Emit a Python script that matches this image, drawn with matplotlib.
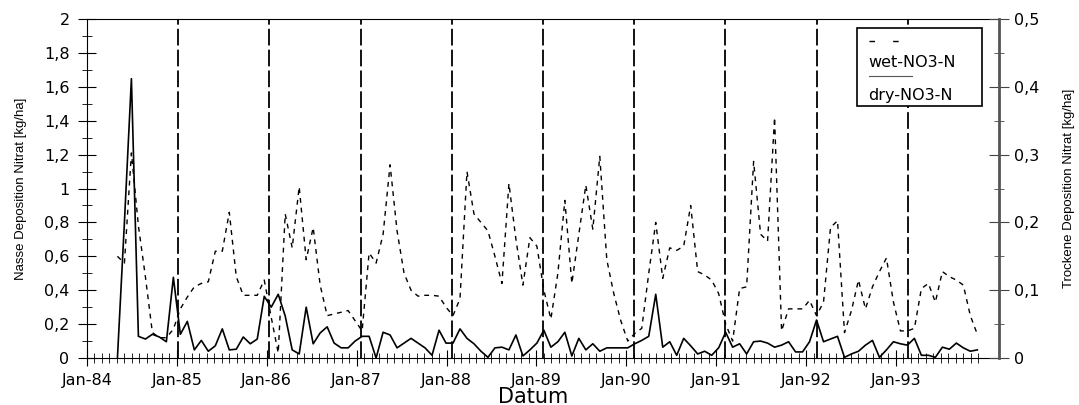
import pandas as pd
import matplotlib
matplotlib.use("Agg")
import matplotlib.pyplot as plt
import matplotlib.dates as mdates
from matplotlib.patches import Rectangle
from matplotlib.lines import Line2D
from matplotlib.ticker import FixedLocator, FixedFormatter, FuncFormatter, MultipleLocator

# 4-weekly sampling periods, first period ending early May 1984
period_start = "1984-05-02"
n_periods = 124

# wet deposition NO3-N [kg/ha] (left axis)
wet_no3 = [
    0.60, 0.56, 1.21, 0.78, 0.48, 0.15, 0.12, 0.12, 0.17, 0.29,
    0.36, 0.42, 0.44, 0.45, 0.63, 0.63, 0.86, 0.48, 0.37, 0.37,
    0.37, 0.46, 0.24, 0.03, 0.85, 0.65, 1.01, 0.58, 0.77, 0.43,
    0.25, 0.26, 0.27, 0.28, 0.22, 0.16, 0.62, 0.56, 0.73, 1.14,
    0.75, 0.50, 0.40, 0.365, 0.37, 0.37, 0.365, 0.30, 0.25, 0.35,
    1.10, 0.85, 0.80, 0.75, 0.60, 0.44, 1.03, 0.70, 0.43, 0.71,
    0.66, 0.40, 0.23, 0.50, 0.93, 0.44, 0.73, 1.02, 0.76, 1.19,
    0.58, 0.38, 0.22, 0.10, 0.145, 0.175, 0.50, 0.80, 0.47, 0.65,
    0.635, 0.66, 0.90, 0.51, 0.49, 0.46, 0.38, 0.20, 0.10, 0.41,
    0.42, 1.16, 0.73, 0.69, 1.42, 0.16, 0.29, 0.29, 0.29, 0.34,
    0.25, 0.33, 0.77, 0.81, 0.15, 0.28, 0.46, 0.29, 0.42, 0.51,
    0.59, 0.33, 0.16, 0.16, 0.175, 0.41, 0.44, 0.33, 0.51, 0.48,
    0.46, 0.43, 0.25, 0.14,
]

# dry deposition NO3-N [kg/ha] (right axis)
dry_no3 = [
    0.0, 0.20, 0.412, 0.032, 0.028, 0.035, 0.031, 0.024, 0.119, 0.035,
    0.054, 0.012, 0.026, 0.010, 0.018, 0.043, 0.012, 0.013, 0.031, 0.021,
    0.028, 0.091, 0.075, 0.094, 0.062, 0.012, 0.006, 0.075, 0.021, 0.037,
    0.046, 0.022, 0.015, 0.015, 0.025, 0.032, 0.032, 0.0, 0.038, 0.034,
    0.015, 0.022, 0.029, 0.022, 0.015, 0.004, 0.041, 0.022, 0.022, 0.043,
    0.029, 0.021, 0.010, 0.001, 0.015, 0.016, 0.012, 0.034, 0.003, 0.012,
    0.022, 0.041, 0.016, 0.024, 0.038, 0.003, 0.029, 0.012, 0.021, 0.010,
    0.015, 0.015, 0.015, 0.015, 0.021, 0.026, 0.032, 0.094, 0.016, 0.024,
    0.004, 0.029, 0.018, 0.006, 0.010, 0.004, 0.015, 0.038, 0.016, 0.021,
    0.006, 0.024, 0.025, 0.022, 0.016, 0.019, 0.024, 0.009, 0.009, 0.024,
    0.056, 0.024, 0.028, 0.032, 0.001, 0.006, 0.010, 0.019, 0.026, 0.001,
    0.012, 0.024, 0.021, 0.019, 0.029, 0.004, 0.004, 0.001, 0.016, 0.013,
    0.022, 0.015, 0.010, 0.012,
]

year_labels = ["Jan-84", "Jan-85", "Jan-86", "Jan-87", "Jan-88",
               "Jan-89", "Jan-90", "Jan-91", "Jan-92", "Jan-93"]
year_lines = [1985, 1986, 1987, 1988, 1989, 1990, 1991, 1992, 1993]

dates = pd.date_range(period_start, periods=n_periods, freq="28D")
# axis ticks every 30 days, a label every 12th tick (Excel style)
tick_dates = pd.date_range("1984-01-01", periods=120, freq="30D")

plt.rcParams["font.family"] = ["DejaVu Sans"]
plt.rcParams["lines.scale_dashes"] = False

fig = plt.figure(figsize=(10.79, 4.05), dpi=100)
ax = fig.add_axes([0.0806, 0.116, 0.8453, 0.837])
ax2 = ax.twinx()

comma = FuncFormatter(lambda v, pos: f"{v:g}".replace(".", ","))

# left axis: wet
for yr in year_lines:
    ax.axvline(pd.Timestamp(f"{yr}-01-01"), color="black", lw=1.3,
               dashes=(12, 3), zorder=1)
ax.plot(dates, wet_no3, color="black", lw=1.0, dashes=(3.5, 3.5), zorder=3)
ax.set_ylim(0, 2)
ax.set_xlim(pd.Timestamp("1984-01-01"), pd.Timestamp("1994-01-01"))
ax.yaxis.set_major_locator(MultipleLocator(0.2))
ax.yaxis.set_minor_locator(MultipleLocator(0.1))
ax.yaxis.set_major_formatter(comma)
ax.xaxis.set_major_locator(FixedLocator(mdates.date2num(tick_dates[::12])))
ax.xaxis.set_major_formatter(FixedFormatter(year_labels))
ax.xaxis.set_minor_locator(FixedLocator(mdates.date2num(tick_dates)))
ax.tick_params(axis="y", which="major", direction="inout", length=13,
               pad=6, labelsize=11.5)
ax.tick_params(axis="y", which="minor", direction="inout", length=6.5)
ax.tick_params(axis="x", which="major", direction="inout", length=11,
               pad=5, labelsize=11.5)
ax.tick_params(axis="x", which="minor", direction="inout", length=7)
ax.spines["right"].set_visible(False)
ax.set_ylabel("Nasse Deposition Nitrat [kg/ha]", fontsize=9.5,
              family=["Liberation Sans"])
ax.yaxis.set_label_coords(-0.066, 0.5)
ax.set_xlabel("Datum", fontsize=15)
ax.xaxis.set_label_coords(0.489, -0.085)

# right axis: dry
ax2.plot(dates, dry_no3, color="black", lw=1.2, zorder=3)
ax2.set_ylim(0, 0.5)
ax2.yaxis.set_major_locator(MultipleLocator(0.1))
ax2.yaxis.set_minor_locator(MultipleLocator(0.05))
ax2.yaxis.set_major_formatter(comma)
ax2.tick_params(axis="y", which="major", direction="inout", length=15,
                pad=3, labelsize=11.5, color="#444444")
ax2.tick_params(axis="y", which="minor", direction="inout", length=6.5,
                color="#444444")
for side in ["top", "bottom", "left"]:
    ax2.spines[side].set_visible(False)
ax2.spines["right"].set_color("#555555")
ax2.spines["right"].set_linewidth(2)
ax2.set_ylabel("Trockene Deposition Nitrat [kg/ha]", fontsize=9.5,
               family=["Liberation Sans"])
ax2.yaxis.set_label_coords(1.07, 0.5)

# legend box (handle drawn above each label)
ax2.add_patch(Rectangle((0.844, 0.743), 0.137, 0.230, transform=ax2.transAxes,
                        facecolor="white", edgecolor="black", lw=1.2, zorder=10))
ax2.add_line(Line2D([0.857, 0.890], [0.935, 0.935], transform=ax2.transAxes,
                    color="black", lw=1.0, dashes=(4, 13), zorder=11))
ax2.text(0.857, 0.873, "wet-NO3-N", transform=ax2.transAxes, fontsize=11.5,
         va="center", ha="left", zorder=11)
ax2.add_line(Line2D([0.857, 0.905], [0.832, 0.832], transform=ax2.transAxes,
                    color="#555555", lw=0.8, zorder=11))
ax2.text(0.857, 0.773, "dry-NO3-N", transform=ax2.transAxes, fontsize=11.5,
         va="center", ha="left", zorder=11)

fig.savefig("out.png", dpi=100)
